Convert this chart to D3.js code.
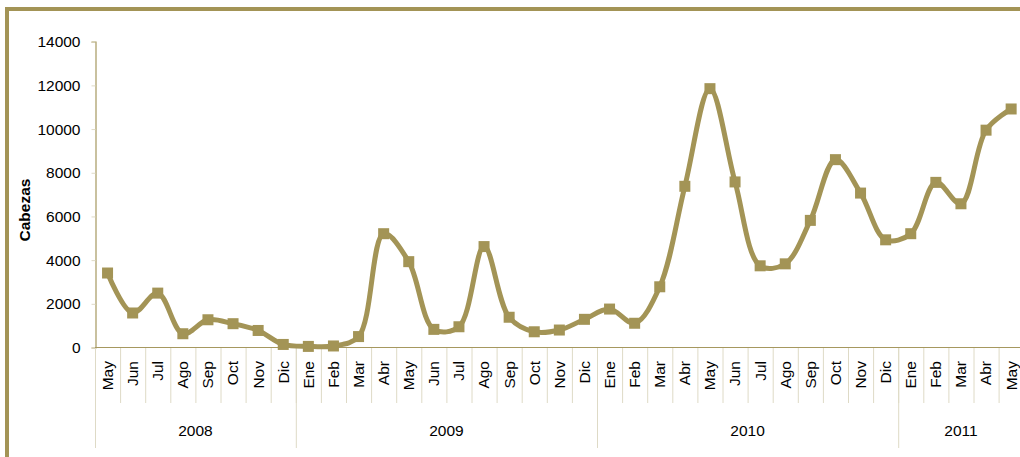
<!DOCTYPE html>
<html>
<head>
<meta charset="utf-8">
<script src="https://cdn.jsdelivr.net/npm/d3@7"></script>
<style>
  body { margin: 0; background: #fff; }
  svg { display: block; font-family: "Liberation Sans", Arial, sans-serif; }
</style>
</head>
<body>
<div id="chart"></div>
<script>
//Datos
const meses = ['May','Jun','Jul','Ago','Sep','Oct','Nov','Dic',
  'Ene','Feb','Mar','Abr','May','Jun','Jul','Ago','Sep','Oct','Nov','Dic',
  'Ene','Feb','Mar','Abr','May','Jun','Jul','Ago','Sep','Oct','Nov','Dic',
  'Ene','Feb','Mar','Abr','May'];
const anios = ['2008','2009','2010','2011'];
const mesesPorAnio = [8, 12, 12, 5];
const cabezas = [3410, 1580, 2490, 630, 1270, 1090, 780, 140,
  50, 70, 500, 5210, 3930, 830, 950, 4620, 1385, 720, 800, 1290,
  1760, 1110, 2780, 7380, 11850, 7580, 3740, 3830, 5820, 8600, 7070, 4930,
  5210, 7560, 6580, 9950, 10920];
const ticksY = [0, 2000, 4000, 6000, 8000, 10000, 12000, 14000];

//Colores fijos
const COLOR_LINEA = '#A39456',
  COLOR_EJE = '#A6985F',
  COLOR_GRID = '#DEDAC6';

const W = 1020, H = 457;
const x0 = 95, bw = 25.1, yBase = 347.5, yTop = 41.7;

let svg = d3.select('#chart').append('svg')
  .attr('width', W).attr('height', H);

//Marco
svg.append('line').attr('x1', 5).attr('x2', W).attr('y1', 9).attr('y2', 9)
  .attr('stroke', COLOR_LINEA).attr('stroke-width', 4);
svg.append('line').attr('x1', 7).attr('x2', 7).attr('y1', 7).attr('y2', H)
  .attr('stroke', COLOR_LINEA).attr('stroke-width', 4);

let idx = d3.range(meses.length);
let x = d3.scaleBand().domain(idx).range([x0, x0 + bw * meses.length]).padding(0);
let y = d3.scaleLinear().domain([0, 14000]).range([yBase, yTop]);

//Eje Y
let yAxis = svg.append('g')
  .attr('transform', 'translate(' + (x0 + 0.5) + ',0)')
  .call(d3.axisLeft(y).tickValues(ticksY).tickSize(4).tickPadding(11).tickFormat(d3.format('d')));
yAxis.select('.domain').attr('stroke', COLOR_EJE).attr('stroke-width', 1.2);
yAxis.selectAll('.tick line').attr('stroke', COLOR_GRID);
yAxis.selectAll('.tick text').attr('fill', '#000').style('font-size', '15.5px');

svg.append('text')
  .attr('transform', 'translate(25,210) rotate(-90)')
  .attr('text-anchor', 'middle')
  .attr('dy', '0.35em')
  .style('font-size', '15.5px').style('font-weight', 'bold')
  .text('Cabezas');

//Separadores de meses
svg.append('g').selectAll('line')
  .data(idx.slice(1))
  .enter().append('line')
  .attr('x1', d => x(d) + 0.5).attr('x2', d => x(d) + 0.5)
  .attr('y1', yBase).attr('y2', 403)
  .attr('stroke', COLOR_GRID);

//Separadores de años
let starts = [0];
mesesPorAnio.forEach((n, i) => starts.push(starts[i] + n));
svg.append('g').selectAll('line')
  .data(starts.slice(0, anios.length))
  .enter().append('line')
  .attr('x1', d => x(d) + 0.5).attr('x2', d => x(d) + 0.5)
  .attr('y1', yBase).attr('y2', 448)
  .attr('stroke', COLOR_GRID);

//Eje X
svg.append('line')
  .attr('x1', x0).attr('x2', W).attr('y1', yBase).attr('y2', yBase)
  .attr('stroke', COLOR_EJE).attr('stroke-width', 1.2);

//Etiquetas de meses
svg.append('g').selectAll('text')
  .data(idx)
  .enter().append('text')
  .attr('transform', d => 'translate(' + (x(d) + bw / 2) + ',361) rotate(-90)')
  .attr('text-anchor', 'end')
  .attr('dy', '0.35em')
  .style('font-size', '15.5px')
  .text(d => meses[d]);

//Etiquetas de años
svg.append('g').selectAll('text')
  .data(anios)
  .enter().append('text')
  .attr('x', (d, i) => (x(starts[i]) + x(starts[i + 1] - 1) + bw) / 2)
  .attr('y', 436)
  .attr('text-anchor', 'middle')
  .style('font-size', '15.5px')
  .text(d => d);

//Línea
let line = d3.line()
  .x((d, i) => x(i) + bw / 2)
  .y(d => y(d))
  .curve(d3.curveCatmullRom.alpha(0.5));

svg.append('path')
  .datum(cabezas)
  .attr('d', line)
  .attr('fill', 'none')
  .attr('stroke', COLOR_LINEA)
  .attr('stroke-width', 5);

//Marcadores
svg.append('g').selectAll('rect')
  .data(cabezas)
  .enter().append('rect')
  .attr('x', (d, i) => x(i) + bw / 2 - 5.5)
  .attr('y', d => y(d) - 5.5)
  .attr('width', 11).attr('height', 11)
  .attr('fill', COLOR_LINEA);
</script>
</body>
</html>
